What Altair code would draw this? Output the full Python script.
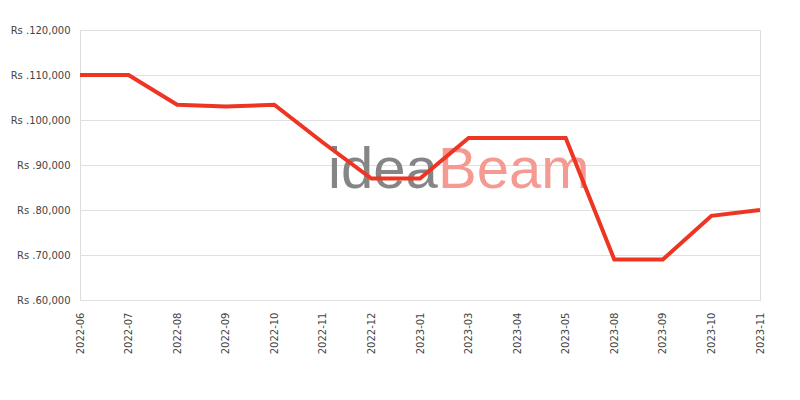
import altair as alt
import pandas as pd

months = ["2022-06", "2022-07", "2022-08", "2022-09", "2022-10", "2022-11", "2022-12",
          "2023-01", "2023-03", "2023-04", "2023-05", "2023-08", "2023-09", "2023-10", "2023-11"]
prices = [110000, 110000, 103400, 103000, 103400, 95000, 87000,
          87000, 96000, 96000, 96000, 69000, 69000, 78700, 80000]

df = pd.DataFrame({"month": months, "price": prices})

wm_text = ["idea", "Beam"]
wm_color = ["#858585", "#f59a92"]

line = alt.Chart(df).mark_line(color="#ee3524", strokeWidth=4).encode(
    x=alt.X("month:N", sort=None, title=None,
            scale=alt.Scale(type="point", padding=0),
            axis=alt.Axis(labelAngle=-90, ticks=False, grid=False, domain=False,
                          labelFont="DejaVu Sans", labelFontSize=10, labelColor="#444",
                          labelPadding=12)),
    y=alt.Y("price:Q", title=None,
            scale=alt.Scale(domain=[60000, 120000], nice=False, zero=False),
            axis=alt.Axis(values=list(range(60000, 120001, 10000)), ticks=False,
                          domain=False, gridColor="#e0e0e0",
                          labelExpr="'Rs .' + format(datum.value, ',')",
                          labelFont="DejaVu Sans", labelFontSize=10, labelColor="#444",
                          labelPadding=10)),
)

wm1 = alt.Chart(pd.DataFrame({"t": [wm_text[0]]})).mark_text(
    font="Liberation Sans", fontSize=58,
    align="left", baseline="alphabetic", color=wm_color[0]
).encode(x=alt.value(248), y=alt.value(158), text="t:N")
wm2 = alt.Chart(pd.DataFrame({"t": [wm_text[1]]})).mark_text(
    font="Liberation Sans", fontSize=58,
    align="left", baseline="alphabetic", color=wm_color[1]
).encode(x=alt.value(358), y=alt.value(158), text="t:N")

chart = alt.layer(wm1, wm2, line).properties(
    width=680, height=270,
    autosize=alt.AutoSizeParams(type="none"),
    padding={"left": 72, "top": 22, "right": 32, "bottom": 92},
).configure_view(stroke="#dddddd").configure(background="white")

chart.save("out.html", embed_options={"renderer": "svg", "actions": False})
